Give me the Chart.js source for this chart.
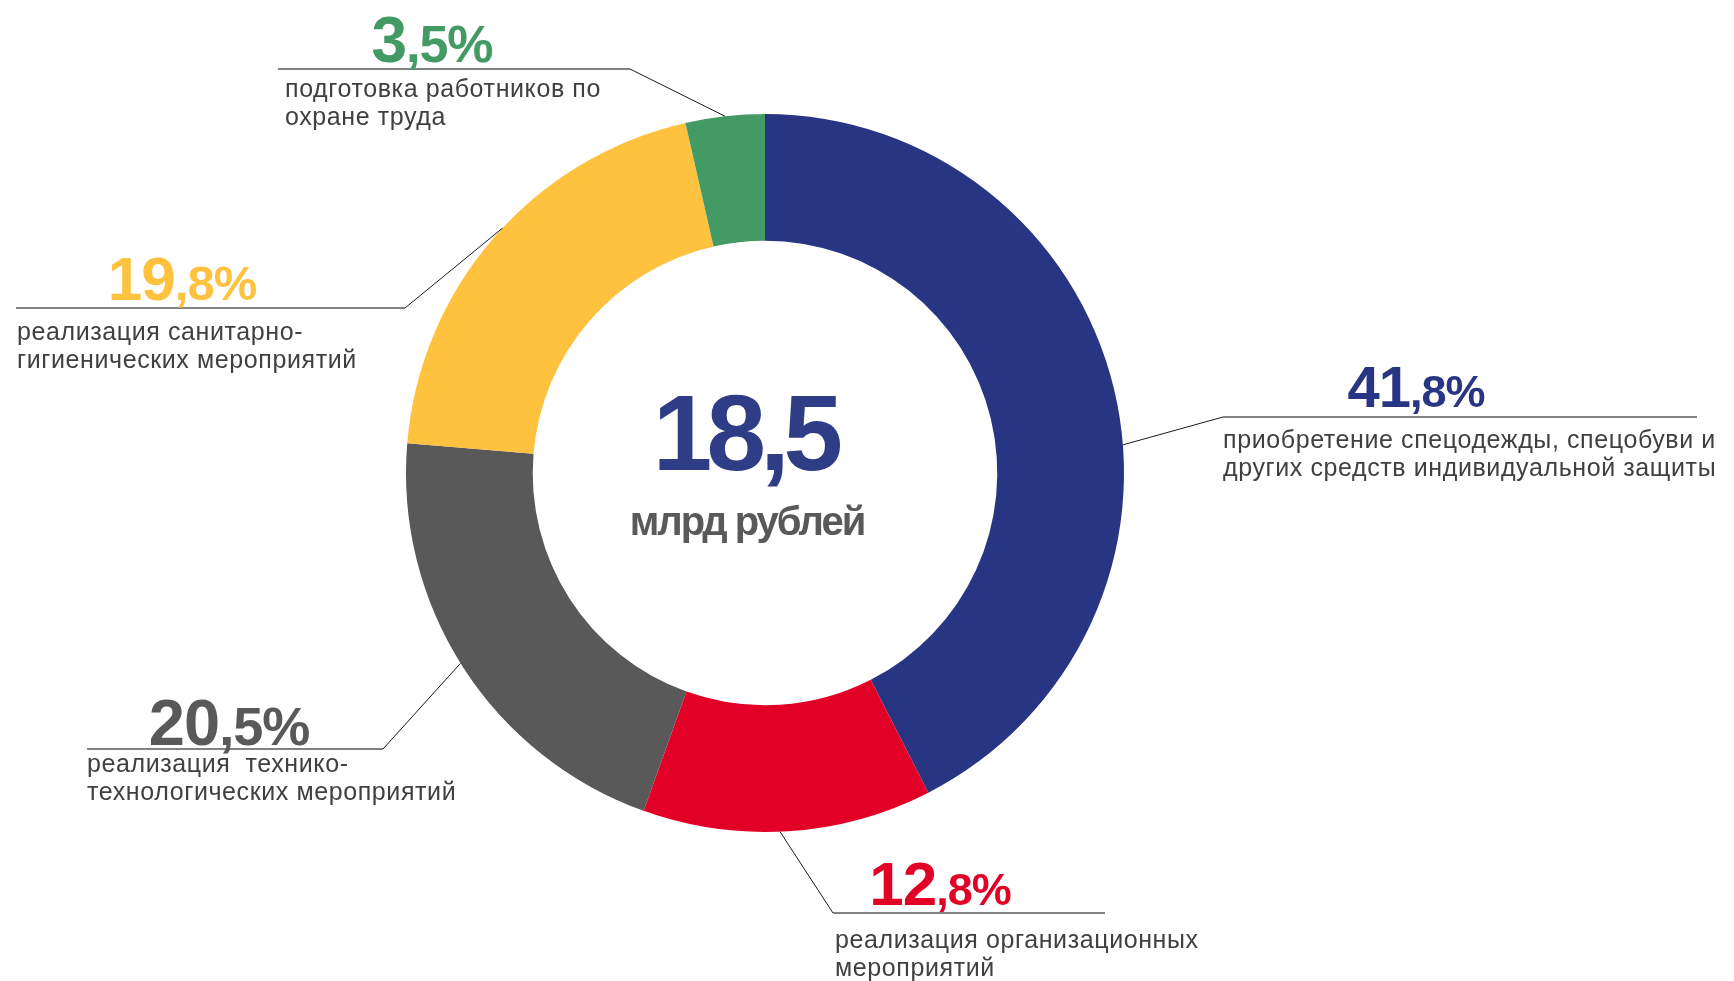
<!DOCTYPE html>
<html>
<head>
<meta charset="utf-8">
<script src="https://cdn.jsdelivr.net/npm/chart.js@4"></script>
<style>
body { margin: 0; background: #fff; }
#wrap { width: 1734px; height: 981px; }
</style>
</head>
<body>
<div id="wrap"><canvas id="chart" width="1734" height="981"></canvas></div>
<script>
// data, clockwise from 12 o'clock
var categories = [
    ['приобретение спецодежды, спецобуви и', 'других средств индивидуальной защиты'],
    ['реализация организационных', 'мероприятий'],
    ['реализация  технико-', 'технологических мероприятий'],
    ['реализация санитарно-', 'гигиенических мероприятий'],
    ['подготовка работников по', 'охране труда']
];
var shares = [41.8, 12.8, 20.5, 19.8, 3.5];
var colors = ['#283583', '#E30026', '#595959', '#FFC23F', '#449A65'];
var totalValue = '18,5';
var totalUnit = 'млрд рублей';

// label placement: leader angle (deg from top), elbow point, far end of underline,
// centre of the % text, its baseline, caption x and first baseline, font sizes
var labelLayout = [
    { angle: 85.5, ex: 1223, ey: 417, endX: 1697, px: 1416, py: 407, tx: 1223, ty: 448, big: 58, small: 45 },
    { angle: 177.6, ex: 833, ey: 913, endX: 1105, px: 940, py: 905, tx: 835, ty: 948, big: 62, small: 45 },
    { angle: 238, ex: 383, ey: 749, endX: 87, px: 229, py: 745, tx: 87, ty: 772, big: 65, small: 54 },
    { angle: 313, ex: 405, ey: 308, endX: 16, px: 182, py: 300, tx: 17, ty: 340, big: 62, small: 49 },
    { angle: 353.6, ex: 630, ey: 69, endX: 278, px: 432, py: 62, tx: 285, ty: 97, big: 64, small: 52 }
];

var fmt = function(v) {
    var parts = v.toFixed(1).split('.');
    return [parts[0], ',' + parts[1] + '%'];
};

var labelsPlugin = {
    id: 'labels',
    afterDraw: function(chart) {
        var ctx = chart.ctx;
        var arcs = chart.getDatasetMeta(0).data;
        ctx.save();
        arcs.forEach(function(arc, i) {
            var l = labelLayout[i];
            var a = l.angle * Math.PI / 180;
            var sx = arc.x + arc.outerRadius * Math.sin(a);
            var sy = arc.y - arc.outerRadius * Math.cos(a);
            // diagonal leader
            ctx.strokeStyle = '#1a1a1a';
            ctx.lineWidth = 1;
            ctx.beginPath();
            ctx.moveTo(sx, sy);
            ctx.lineTo(l.ex, l.ey);
            ctx.stroke();
            // underline
            ctx.strokeStyle = '#595959';
            ctx.lineWidth = 1.6;
            ctx.beginPath();
            ctx.moveTo(l.ex, l.ey);
            ctx.lineTo(l.endX, l.ey);
            ctx.stroke();

            // percent text, integer part bigger
            var p = fmt(shares[i]);
            ctx.fillStyle = colors[i];
            ctx.textBaseline = 'alphabetic';
            ctx.textAlign = 'left';
            ctx.letterSpacing = '-1px';
            ctx.font = 'bold ' + l.big + 'px "Liberation Sans", Arial, sans-serif';
            var w1 = ctx.measureText(p[0]).width;
            ctx.font = 'bold ' + l.small + 'px "Liberation Sans", Arial, sans-serif';
            var w2 = ctx.measureText(p[1]).width;
            var x0 = l.px - (w1 + w2) / 2;
            ctx.font = 'bold ' + l.big + 'px "Liberation Sans", Arial, sans-serif';
            ctx.fillText(p[0], x0, l.py);
            ctx.font = 'bold ' + l.small + 'px "Liberation Sans", Arial, sans-serif';
            ctx.fillText(p[1], x0 + w1, l.py);

            // caption
            ctx.letterSpacing = '0.6px';
            ctx.fillStyle = '#404040';
            ctx.font = '25px "Liberation Sans", Arial, sans-serif';
            categories[i].forEach(function(line, j) {
                ctx.fillText(line, l.tx, l.ty + j * 28);
            });
        });

        // centre total
        var cx = arcs[0].x - 20;
        var cy = arcs[0].y;
        ctx.textAlign = 'center';
        ctx.letterSpacing = '-6px';
        ctx.fillStyle = '#2E3D85';
        ctx.font = 'bold 107px "Liberation Sans", Arial, sans-serif';
        ctx.fillText(totalValue, cx, cy - 3);
        ctx.letterSpacing = '-2px';
        ctx.fillStyle = '#595959';
        ctx.font = 'bold 40px "Liberation Sans", Arial, sans-serif';
        ctx.fillText(totalUnit, cx + 2, cy + 62);
        ctx.restore();
    }
};

new Chart(document.getElementById('chart'), {
    type: 'doughnut',
    data: {
        labels: categories.map(function(c) { return c.join(' '); }),
        datasets: [{
            data: shares,
            backgroundColor: colors,
            borderWidth: 0
        }]
    },
    options: {
        responsive: false,
        animation: false,
        cutout: '64.7%',
        layout: { padding: { top: 114, bottom: 149, left: 0, right: 204 } },
        plugins: {
            legend: { display: false },
            tooltip: { enabled: false }
        }
    },
    plugins: [labelsPlugin]
});
</script>
</body>
</html>
